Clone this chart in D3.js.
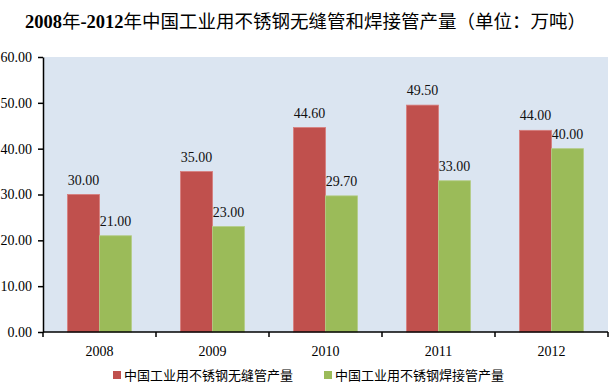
<!DOCTYPE html>
<html><head><meta charset="utf-8">
<script src="https://cdn.jsdelivr.net/npm/d3@7"></script>
<style>body{margin:0;background:#fff}svg{display:block}</style>
</head><body>
<script>
const years = ["2008","2009","2010","2011","2012"];
const seriesNames = ["中国工业用不锈钢无缝管产量","中国工业用不锈钢焊接管产量"];
const seamless = [30.00,35.00,44.60,49.50,44.00];
const welded = [21.00,23.00,29.70,33.00,40.00];
const yTicks = [0,10,20,30,40,50,60];
const colors = ["#c0504d","#9bbb59"];
const title = "2008年-2012年中国工业用不锈钢无缝管和焊接管产量（单位：万吨）";

const W=609,H=384;
const svg=d3.select("body").append("svg").attr("width",W).attr("height",H);
const serif='"Liberation Serif","Times New Roman","Noto Sans CJK SC",serif';
const L=43,R=608,T=57,B=332;
const x0=d3.scaleBand().domain(years).range([L,R]).paddingInner(0.434).paddingOuter(0.217);
const x1=d3.scaleBand().domain([0,1]).range([0,x0.bandwidth()]);
const y=d3.scaleLinear().domain([0,60]).range([B,T]);

svg.append("rect").attr("x",L).attr("y",T).attr("width",R-L).attr("height",B-T).attr("fill","#dbe5f1");

// title
const t=svg.append("text").attr("x",W/2+1).attr("y",28).attr("text-anchor","middle")
 .attr("font-size",18.5).attr("font-family",serif).attr("fill","#000");
title.split(/([0-9\-]+)/).filter(s=>s).forEach(s=>{
  t.append("tspan").text(s).attr("font-weight",/[0-9]/.test(s)?"bold":"normal");
});

const data=years.map((yr,i)=>({yr,vals:[seamless[i],welded[i]]}));
const g=svg.selectAll("g.grp").data(data).enter().append("g").attr("transform",d=>`translate(${x0(d.yr)},0)`);
g.selectAll("rect").data(d=>d.vals.map((v,k)=>({v,k}))).enter().append("rect")
 .attr("x",d=>x1(d.k)).attr("width",x1.bandwidth())
 .attr("y",d=>y(d.v)).attr("height",d=>B-y(d.v))
 .attr("fill",d=>colors[d.k]).attr("stroke",d=>d.k===0?"#d77c7a":"#b3cc85").attr("stroke-width",0.8);
g.selectAll("text").data(d=>d.vals.map((v,k)=>({v,k}))).enter().append("text")
 .attr("x",d=>x1(d.k)+x1.bandwidth()/2).attr("y",d=>y(d.v)-10)
 .attr("text-anchor","middle").attr("font-size",14).attr("font-family",serif).attr("fill","#111")
 .text(d=>d.v.toFixed(2));

// y axis
const ya=svg.append("g").attr("transform",`translate(${L},0)`)
 .call(d3.axisLeft(y).tickValues(yTicks).tickFormat(d=>d.toFixed(2)).tickSize(5).tickSizeOuter(0));
ya.select(".domain").attr("stroke","#000").attr("stroke-width",1.5);
ya.selectAll(".tick line").attr("stroke","#000").attr("stroke-width",1.5);
ya.selectAll(".tick text").attr("font-size",14).attr("font-family",serif).attr("fill","#000").attr("x",-11);

// x axis
const xs=d3.scaleLinear().domain([0,5]).range([L,R]);
const xa=svg.append("g").attr("transform",`translate(0,${B})`);
xa.append("line").attr("x1",L).attr("x2",R).attr("stroke","#000").attr("stroke-width",1.5);
xa.selectAll("line.tk").data(d3.range(6)).enter().append("line").attr("class","tk")
 .attr("x1",d=>xs(d)).attr("x2",d=>xs(d)).attr("y1",0).attr("y2",5).attr("stroke","#000").attr("stroke-width",1.5);
xa.selectAll("text").data(years).enter().append("text")
 .attr("x",d=>x0(d)+x0.bandwidth()/2).attr("y",24).attr("text-anchor","middle")
 .attr("font-size",14).attr("font-family",serif).attr("fill","#000").text(d=>d);

// legend
const legX=[113,324];
const lg=svg.selectAll("g.leg").data(seriesNames).enter().append("g").attr("transform",(d,i)=>`translate(${legX[i]},376)`);
lg.append("rect").attr("x",0).attr("y",-5).attr("width",8).attr("height",8).attr("fill",(d,i)=>colors[i]);
lg.append("text").attr("x",11).attr("y",4).attr("font-size",13).attr("font-family",serif).attr("fill","#000").text(d=>d);
</script>
</body></html>
